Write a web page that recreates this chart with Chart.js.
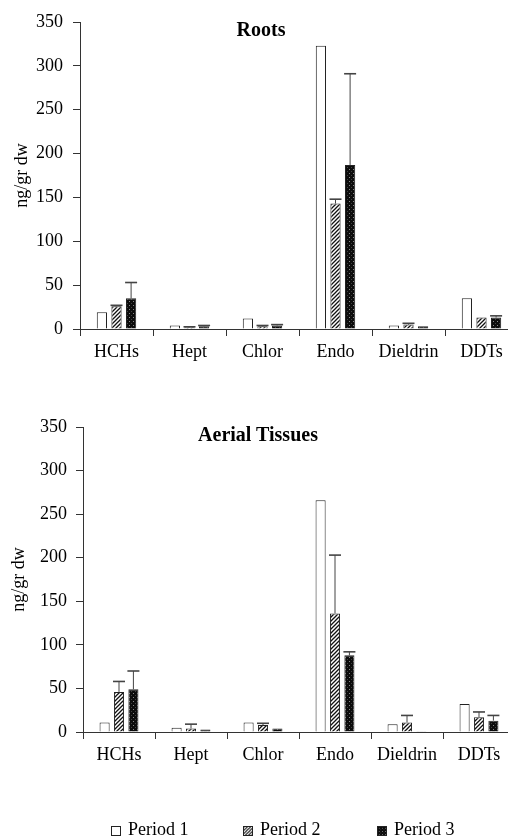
<!DOCTYPE html>
<html>
<head>
<meta charset="utf-8">
<script src="https://cdn.jsdelivr.net/npm/chart.js@4.4.1/dist/chart.umd.min.js"></script>
<style>
html,body{margin:0;padding:0;background:#fff;overflow:hidden;width:508px;height:840px}
#wrap{position:relative;width:508px;height:840px;overflow:hidden;font-family:"Liberation Serif","Times New Roman",serif}
canvas{position:absolute;left:0}
.ttl{position:absolute;font-weight:bold;font-size:20px;line-height:20px;transform:translateX(-50%);white-space:nowrap;color:#000}
.leg{position:absolute;top:819px;font-size:18px;line-height:20px;color:#000;white-space:nowrap}
.leg canvas{position:static;vertical-align:-1px;margin-right:7px;border:1px solid #222;box-sizing:border-box}
</style>
</head>
<body>
<div id="wrap">
  <canvas id="c-roots" width="518" height="380" style="top:0"></canvas>
  <canvas id="c-aerial" width="515" height="460" style="top:380px"></canvas>
  <div class="ttl" style="left:261px;top:19px">Roots</div>
  <div class="ttl" style="left:258px;top:424px">Aerial Tissues</div>
  <div id="legend"></div>
</div>
<script>
const CATS = ['HCHs','Hept','Chlor','Endo','Dieldrin','DDTs'];
const PERIODS = ['Period 1','Period 2','Period 3'];
const Y_TICKS = [0,50,100,150,200,250,300,350];

// Roots (ng/gr dw)
const ROOTS_P1 = [19, 4, 12, 323, 4, 35];
const ROOTS_P2 = [26, 2, 3, 143, 5, 13];
const ROOTS_P3 = [35, 3, 4, 187, 3, 13];
const ROOTS_E1 = [0, 0, 0, 0, 0, 0];
const ROOTS_E2 = [1, 0.5, 1, 5, 1.5, 0];
const ROOTS_E3 = [18, 1, 1, 104, 0, 2];

// Aerial tissues (ng/gr dw)
const AER_P1 = [11, 5, 11, 266, 9, 32];
const AER_P2 = [46, 4, 8, 136, 11, 17];
const AER_P3 = [49, 3, 4, 88, 1, 13];
const AER_E1 = [0, 0, 0, 0, 0, 0];
const AER_E2 = [12, 5, 2, 67, 8, 6];
const AER_E3 = [21, 0, 0, 4, 0, 6];

const FONT = '"Liberation Serif","Times New Roman",serif';

function hatchPattern(){
  const c=document.createElement('canvas'); c.width=4; c.height=4;
  const g=c.getContext('2d');
  g.fillStyle='#fff'; g.fillRect(0,0,4,4);
  g.strokeStyle='#111'; g.lineWidth=1.3;
  g.beginPath();
  g.moveTo(0,4); g.lineTo(4,0);
  g.moveTo(-1,1); g.lineTo(1,-1);
  g.moveTo(3,5); g.lineTo(5,3);
  g.stroke();
  return g.createPattern(c,'repeat');
}
function stipplePattern(){
  const c=document.createElement('canvas'); c.width=4; c.height=4;
  const g=c.getContext('2d');
  g.fillStyle='#0c0c0c'; g.fillRect(0,0,4,4);
  g.fillStyle='#8a8a8a'; g.fillRect(1,1,1,1);
  g.fillStyle='#404040'; g.fillRect(3,3,1,1);
  return g.createPattern(c,'repeat');
}
const FILLS = ['#fff', hatchPattern(), stipplePattern()];

// upper error bars, drawn from the y scale
const errBars = {
  id:'errBars',
  afterDatasetsDraw(chart){
    const ctx=chart.ctx, y=chart.scales.y;
    chart.data.datasets.forEach((ds,i)=>{
      const meta=chart.getDatasetMeta(i);
      meta.data.forEach((bar,j)=>{
        const e=ds.errors[j];
        if(!e) return;
        const top=y.getPixelForValue(ds.data[j]+e);
        ctx.save();
        ctx.strokeStyle='#444'; ctx.lineWidth=1;
        ctx.beginPath(); ctx.moveTo(bar.x,bar.y); ctx.lineTo(bar.x,top); ctx.stroke();
        ctx.lineWidth=1.6;
        ctx.beginPath(); ctx.moveTo(bar.x-6,top); ctx.lineTo(bar.x+6,top); ctx.stroke();
        ctx.restore();
      });
    });
  }
};

function makeChart(id, series, errs, cfg){
  return new Chart(id,{
    type:'bar',
    data:{
      labels:CATS,
      datasets:series.map((d,i)=>({
        label:PERIODS[i], data:d, errors:errs[i],
        backgroundColor:FILLS[i], borderColor:'#222', borderWidth:1,
        categoryPercentage:0.6, barPercentage:0.7
      }))
    },
    options:{
      responsive:false, animation:false,
      layout:{padding:{top:cfg.top,left:0,right:0,bottom:0}},
      plugins:{legend:{display:false},tooltip:{enabled:false}},
      scales:{
        x:{
          grid:{display:true,drawOnChartArea:false,drawTicks:true,tickLength:7,color:'#333'},
          border:{display:true,color:'#333',width:1},
          ticks:{color:'#000',font:{family:FONT,size:18},padding:5,maxRotation:0,autoSkip:false},
          afterFit:s=>{s.height=cfg.xh;}
        },
        y:{
          min:0,max:350,
          afterBuildTicks:s=>{s.ticks=Y_TICKS.map(v=>({value:v}));},
          grid:{display:true,drawOnChartArea:false,drawTicks:true,tickLength:7,color:'#333'},
          border:{display:true,color:'#333',width:1},
          ticks:{color:'#000',font:{family:FONT,size:18},padding:cfg.tp},
          title:{display:true,text:'ng/gr dw',color:'#000',font:{family:FONT,size:18},padding:{top:cfg.tt,bottom:0}},
          afterFit:s=>{s.width=cfg.yw;}
        }
      }
    },
    plugins:[errBars]
  });
}

makeChart('c-roots',[ROOTS_P1,ROOTS_P2,ROOTS_P3],[ROOTS_E1,ROOTS_E2,ROOTS_E3],
  {top:22,xh:51,yw:80,tp:10,tt:11});
makeChart('c-aerial',[AER_P1,AER_P2,AER_P3],[AER_E1,AER_E2,AER_E3],
  {top:47,xh:108,yw:83,tp:9,tt:8});

// legend
const LEG_X = [111,243,377];
const legend=document.getElementById('legend');
PERIODS.forEach((p,i)=>{
  const d=document.createElement('div'); d.className='leg'; d.style.left=LEG_X[i]+'px';
  const sw=document.createElement('canvas'); sw.width=10; sw.height=10;
  sw.style.width='10px'; sw.style.height='10px';
  const g=sw.getContext('2d'); g.fillStyle=FILLS[i]; g.fillRect(0,0,10,10);
  d.appendChild(sw); d.appendChild(document.createTextNode(p));
  legend.appendChild(d);
});
</script>
</body>
</html>
